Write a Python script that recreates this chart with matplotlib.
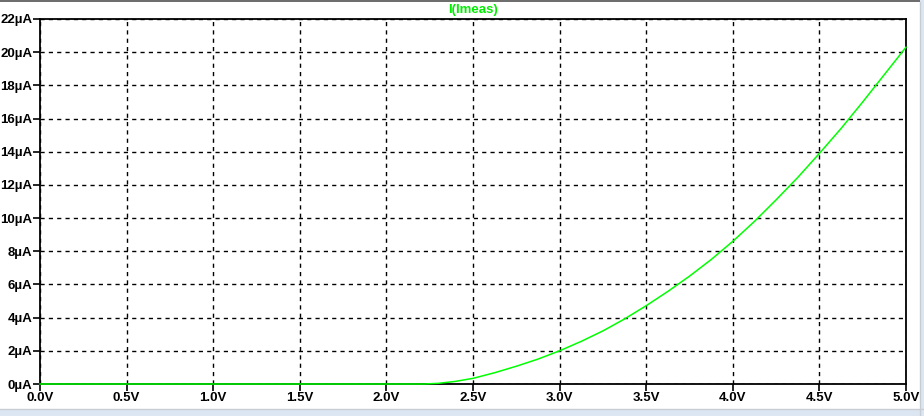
import matplotlib
matplotlib.use("Agg")
import matplotlib.pyplot as plt
from matplotlib.patches import Rectangle
from matplotlib.lines import Line2D
from matplotlib.ticker import FuncFormatter

# Data (V in volts, I in microamps)
voltage = [0.0, 2.22, 2.3, 2.4, 2.5, 2.625, 2.75, 2.875, 3.0, 3.125, 3.25, 3.375,
           3.5, 3.625, 3.75, 3.875, 4.0, 4.125, 4.25, 4.375, 4.5, 4.625, 4.75, 4.875, 5.0]
current_uA = [0.0, 0.0, 0.04, 0.16, 0.34, 0.68, 1.07, 1.5, 2.0, 2.57, 3.2, 3.92,
              4.72, 5.58, 6.5, 7.5, 8.6, 9.8, 11.1, 12.45, 13.9, 15.4, 17.0, 18.65, 20.3]
x_ticks = [0.0, 0.5, 1.0, 1.5, 2.0, 2.5, 3.0, 3.5, 4.0, 4.5, 5.0]
y_ticks = [0, 2, 4, 6, 8, 10, 12, 14, 16, 18, 20, 22]
title_text = "I(Imeas)"

W, H = 924, 416
fig = plt.figure(figsize=(W / 100, H / 100), dpi=100)
fig.patch.set_facecolor("white")

# window chrome: top gray line, right and bottom light-blue strips
fig.add_artist(Rectangle((0, 1 - 2 / H), 1, 2 / H, transform=fig.transFigure,
                         facecolor="#6e6e6e", edgecolor="none"))
fig.add_artist(Rectangle((0, 0), 1, 7 / H, transform=fig.transFigure,
                         facecolor="#dce6f2", edgecolor="none"))
fig.add_artist(Line2D([0, 1], [7 / H, 7 / H], transform=fig.transFigure,
                      color="#c8cdd4", lw=1))
fig.add_artist(Rectangle((920 / W, 0), 4 / W, 1, transform=fig.transFigure,
                         facecolor="#dce6f2", edgecolor="none"))
fig.add_artist(Line2D([919.5 / W, 919.5 / W], [0, 1 - 2 / H], transform=fig.transFigure,
                      color="#c8cdd4", lw=1))

ax = fig.add_axes([40 / W, (H - 384) / H, 866 / W, 365 / H])
ax.set_facecolor("white")
ax.plot(voltage, current_uA, color="#00ff00", lw=1.1, zorder=3, clip_on=False)

ax.set_xlim(0, 5)
ax.set_ylim(0, 22)
ax.set_xticks(x_ticks)
ax.set_yticks(y_ticks)
ax.xaxis.set_major_formatter(FuncFormatter(lambda v, p: f"{v:.1f}V"))
ax.yaxis.set_major_formatter(FuncFormatter(lambda v, p: f"{int(round(v))}µA"))

ax.grid(True, color="black", linestyle=(0, (3, 3)), linewidth=1.0, zorder=1)
for s in ax.spines.values():
    s.set_color("black")
    s.set_linewidth(1.3)

ax.tick_params(axis="both", direction="out", length=5, width=1.2, color="black",
               labelsize=9.5, pad=0.5)
for lab in ax.get_xticklabels() + ax.get_yticklabels():
    lab.set_fontweight("bold")
    lab.set_family("Liberation Sans")

ax.text(0.5, 1.008, title_text, transform=ax.transAxes, ha="center", va="bottom",
        color="#00ee00", fontsize=9.5, fontweight="bold", family="Liberation Sans")

fig.savefig("out.png", dpi=100, facecolor=fig.get_facecolor())
